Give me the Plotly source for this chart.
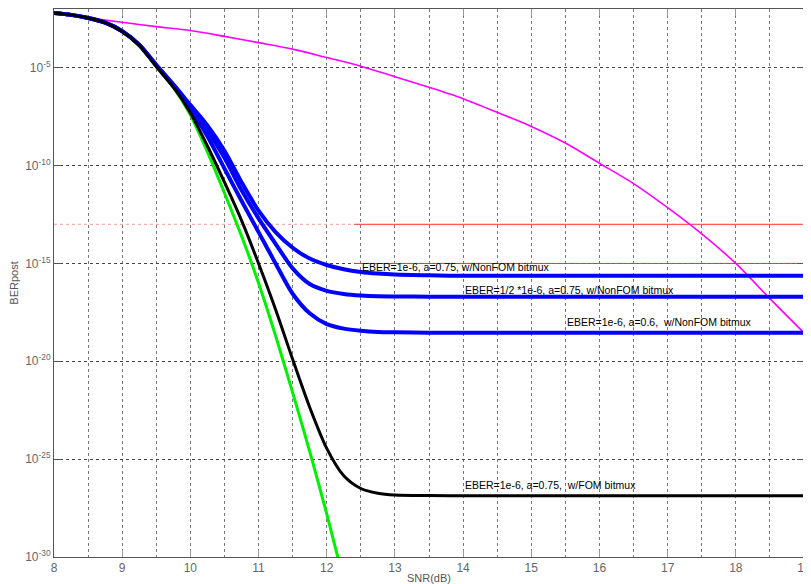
import plotly.graph_objects as go

# ---- data (log10 of BER) ----
snr_q = [8, 8.25, 8.5, 8.75, 9, 9.25, 9.5, 9.75, 10, 10.25, 10.5, 10.75, 11, 11.25,
         11.5, 11.75, 12, 12.25, 12.5, 12.75, 13, 13.5, 14, 15, 16, 17, 18, 19]

green_log = [-2.2, -2.3, -2.46, -2.7, -3.15, -3.85, -4.95, -6.0, -7.4, -9.3, -11.4,
             -13.6, -16.0, -18.7, -21.6, -24.6, -27.8, -31.2]

black_log = [-2.2, -2.3, -2.46, -2.7, -3.15, -3.85, -4.93, -5.98, -7.3, -9.0, -10.85,
             -12.8, -15.0, -17.35, -19.9, -22.35, -24.45, -25.85, -26.5, -26.74, -26.83,
             -26.86, -26.87, -26.87, -26.87, -26.87, -26.87, -26.87]

blueA_log = [-2.2, -2.3, -2.46, -2.7, -3.13, -3.82, -4.85, -5.85, -6.9, -7.95, -9.25,
             -10.85, -12.3, -13.4, -14.2, -14.75, -15.08, -15.3, -15.44, -15.52, -15.57,
             -15.61, -15.63, -15.63, -15.63, -15.63, -15.63, -15.63]

blueB_log = [-2.2, -2.3, -2.46, -2.7, -3.13, -3.83, -4.87, -5.9, -7.0, -8.2, -9.6,
             -11.25, -12.7, -14.0, -15.25, -16.05, -16.4, -16.56, -16.64, -16.68, -16.69,
             -16.7, -16.7, -16.7, -16.7, -16.7, -16.7, -16.7]

blueC_log = [-2.2, -2.3, -2.46, -2.7, -3.14, -3.84, -4.9, -5.95, -7.1, -8.5, -10.15,
             -11.8, -13.4, -15.0, -16.55, -17.55, -18.1, -18.33, -18.44, -18.5, -18.52,
             -18.54, -18.54, -18.54, -18.54, -18.54, -18.54, -18.54]

snr_m = [8, 8.5, 9, 9.5, 10, 10.5, 11, 11.5, 12, 12.5, 13, 13.5, 14, 14.5, 15, 15.5,
         16, 16.5, 17, 17.5, 18, 18.5, 19]
magenta_log = [-2.2, -2.45, -2.68, -2.9, -3.1, -3.4, -3.72, -4.05, -4.48, -4.92, -5.46,
               -6.0, -6.58, -7.28, -8.0, -8.85, -9.88, -10.92, -12.15, -13.49, -15.0,
               -16.8, -18.55]

red_snr = [12.4, 19]
red_levels_log = [-13, -15]
red_faint_snr = [8, 12.4]

ytick_exp = [-5, -10, -15, -20, -25, -30]
ytick_text = ["10<sup>-5</sup>", "10<sup>-10</sup>", "10<sup>-15</sup>",
              "10<sup>-20</sup>", "10<sup>-25</sup>", "10<sup>-30</sup>"]

labels = ["EBER=1e-6, a=0.75, w/NonFOM bitmux",
          "EBER=1/2 *1e-6, a=0.75, w/NonFOM bitmux",
          "EBER=1e-6, a=0.6,  w/NonFOM bitmux",
          "EBER=1e-6, a=0.75,  w/FOM bitmux"]
label_x = [12.49, 14.0, 15.49, 14.0]
label_y_log = [-15.17, -16.34, -17.98, -26.31]


def pw(vals):
    return [10 ** v for v in vals]


fig = go.Figure()

# faint dotted part of red level
fig.add_trace(go.Scatter(x=red_faint_snr, y=pw([red_levels_log[0]] * 2), mode="lines",
                         line=dict(color="rgba(255,80,80,0.6)", width=1, dash="dot"),
                         hoverinfo="skip", showlegend=False))
for lv in red_levels_log:
    fig.add_trace(go.Scatter(x=red_snr, y=pw([lv, lv]), mode="lines",
                             line=dict(color="#ff3030", width=1),
                             showlegend=False))

fig.add_trace(go.Scatter(x=snr_m, y=pw(magenta_log), mode="lines",
                         line=dict(color="#ff00ff", width=1.6, shape="spline", smoothing=0.8),
                         showlegend=False))
fig.add_trace(go.Scatter(x=snr_q[:len(green_log)], y=pw(green_log), mode="lines",
                         line=dict(color="#00ee00", width=3, shape="spline", smoothing=0.8),
                         showlegend=False))
for b in (blueA_log, blueB_log, blueC_log):
    fig.add_trace(go.Scatter(x=snr_q, y=pw(b), mode="lines",
                             line=dict(color="#0000ff", width=4, shape="spline", smoothing=0.8),
                             showlegend=False))
fig.add_trace(go.Scatter(x=snr_q, y=pw(black_log), mode="lines",
                         line=dict(color="#000000", width=3, shape="spline", smoothing=0.8),
                         showlegend=False))

for t, xx, yy in zip(labels, label_x, label_y_log):
    fig.add_annotation(x=xx, y=yy, text=t, showarrow=False, xanchor="left", yanchor="middle",
                       font=dict(family="Liberation Sans, Arial", size=10.5, color="#000"))

tickfont = dict(family="Liberation Sans, Arial", size=12, color="#666")

# the page body adds an 8px offset; margins compensate so the plot area lands at
# x 54..804, y 9..557 in the 811x584 window
fig.update_layout(
    width=803, height=576,
    margin=dict(l=46, r=7, t=1, b=27),
    paper_bgcolor="white", plot_bgcolor="white",
    xaxis=dict(range=[8, 19], tick0=8, dtick=1, ticks="inside", ticklen=7, tickcolor="#999",
               showline=True, linecolor="#555", linewidth=1, mirror="ticks",
               showgrid=True, gridcolor="#777", griddash="dot", gridwidth=1,
               minor=dict(dtick=0.5, showgrid=True, gridcolor="#777", griddash="dot", ticks=""),
               zeroline=False, tickfont=tickfont,
               title=dict(text="SNR(dB)", font=dict(family="Liberation Sans, Arial", size=11, color="#555"),
                          standoff=0),
               automargin=False),
    yaxis=dict(type="log", range=[-30, -2], tickvals=pw(ytick_exp), ticktext=ytick_text,
               ticks="inside", ticklen=7, tickcolor="#555",
               showline=True, linecolor="#555", linewidth=1, mirror="ticks",
               showgrid=True, gridcolor="#444", griddash="dot", gridwidth=1,
               zeroline=False, tickfont=tickfont,
               title=dict(text="BERpost", font=dict(family="Liberation Sans, Arial", size=11, color="#555"),
                          standoff=6),
               automargin=False),
)

fig.write_html("out.html")
